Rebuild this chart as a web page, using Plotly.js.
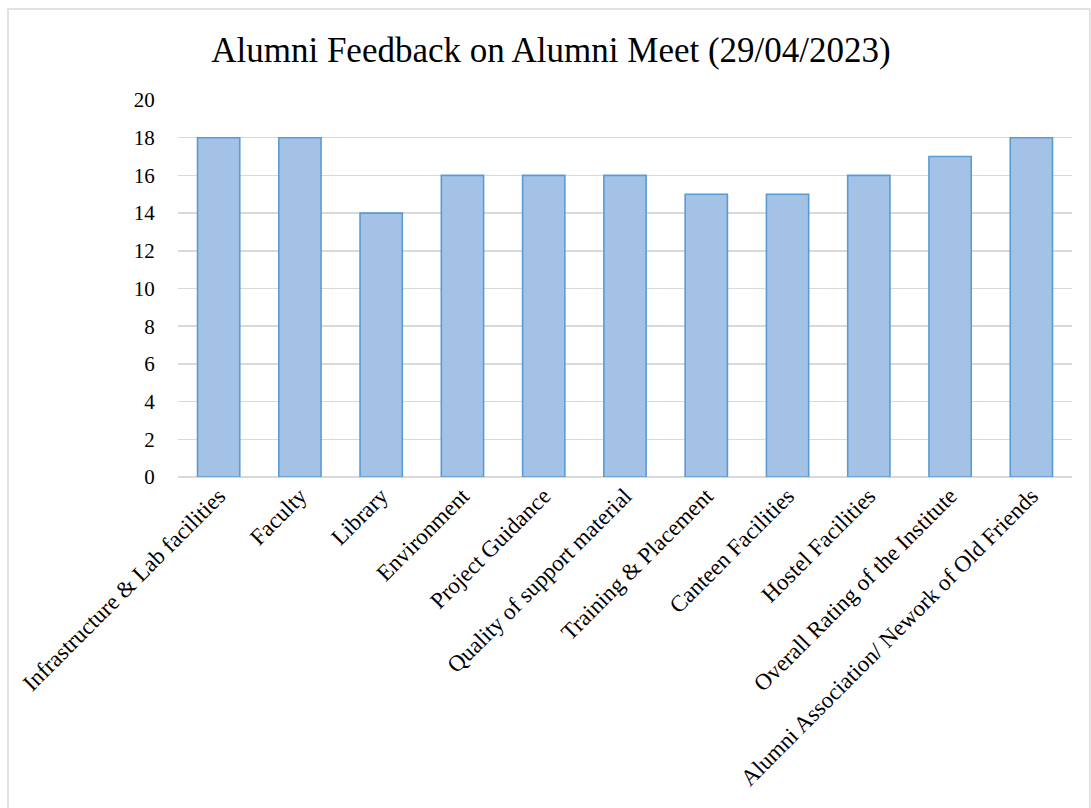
<!DOCTYPE html>
<html>
<head>
<meta charset="utf-8">
<script src="https://cdn.plot.ly/plotly-3.0.1.min.js"></script>
<style>html,body{margin:0;padding:0;background:#fff}#chart{width:1091px;height:808px}</style>
</head>
<body>
<div id="chart"></div>
<script>
const categories = [
  "Infrastructure & Lab facilities",
  "Faculty",
  "Library",
  "Environment",
  "Project Guidance",
  "Quality of support material",
  "Training & Placement",
  "Canteen Facilities",
  "Hostel Facilities",
  "Overall Rating of the Institute",
  "Alumni Association/ Nework of Old Friends"
];
const values = [18, 18, 14, 16, 16, 16, 15, 15, 16, 17, 18];
const yTicks = [0, 2, 4, 6, 8, 10, 12, 14, 16, 18, 20];

const trace = {
  type: "bar",
  x: categories,
  y: values,
  marker: {color: "#a3c2e6", line: {color: "#5b9bd5", width: 1.6}},
  hoverinfo: "x+y"
};

const layout = {
  width: 1091, height: 808,
  paper_bgcolor: "#ffffff", plot_bgcolor: "#ffffff",
  font: {family: "Liberation Serif, Times New Roman, serif", color: "#000", size: 20},
  title: {text: "Alumni Feedback on Alumni Meet (29/04/2023)", font: {size: 35, family: "Liberation Serif, serif", color: "#000"}, x: 0.505, xanchor: "center", y: 1 - 50/808, yanchor: "middle"},
  margin: {l: 178, r: 19, t: 100, b: 331},
  bargap: 0.48,
  showlegend: false,
  xaxis: {
    type: "category", tickangle: -45, tickfont: {size: 23},
    showgrid: false, showline: false, ticks: "", zeroline: false, automargin: false
  },
  yaxis: {
    range: [0, 20], tickvals: yTicks, ticktext: yTicks.map(String),
    showgrid: true, gridcolor: "#d9d9d9", gridwidth: 1.5,
    zeroline: true, zerolinecolor: "#d9d9d9", zerolinewidth: 1.5,
    showline: false, ticks: "outside", ticklen: 18, tickcolor: "rgba(0,0,0,0)",
    tickfont: {size: 21}, automargin: false, fixedrange: true
  },
  shapes: [{type: "rect", xref: "paper", yref: "paper", x0: -170/894, x1: 1.02, y0: -1, y1: 1 + 91/377, line: {color: "#d9d9d9", width: 1.5}, fillcolor: "rgba(0,0,0,0)", layer: "below"}]
};

Plotly.newPlot("chart", [trace], layout, {displayModeBar: false, staticPlot: true});
</script>
</body>
</html>
